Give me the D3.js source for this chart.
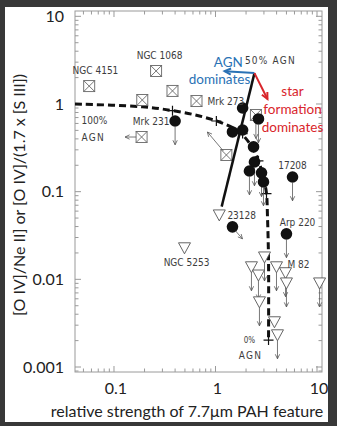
<!DOCTYPE html>
<html>
<head>
<meta charset="utf-8">
<script src="https://cdn.jsdelivr.net/npm/d3@7"></script>
<style>
  html, body { margin: 0; padding: 0; background: #383838; }
  svg { display: block; }
  text { font-family: Lato, "Open Sans", sans-serif; }
  text.small { font-family: "Liberation Sans Narrow", "DejaVu Sans Condensed", Lato, sans-serif; }
</style>
</head>
<body>
<svg id="chart" width="337" height="426"></svg>
<script>
// tick labels
const xTickVals = [0.1, 1, 10];
const yTickVals = [0.001, 0.01, 0.1, 1, 10];

// boxed crosses (x, y, limit arrow)
const squares = [
  { name: "NGC 4151", x: 0.057, y: 1.6, arrow: null },
  { name: "NGC 1068", x: 0.26, y: 2.38, arrow: null },
  { name: "", x: 0.19, y: 1.11, arrow: null },
  { name: "", x: 0.187, y: 0.42, arrow: "left" },
  { name: "", x: 0.377, y: 1.41, arrow: null },
  { name: "Mrk 273", x: 0.65, y: 1.08, arrow: null },
  { name: "", x: 2.5, y: 0.75, arrow: "down" },
  { name: "", x: 1.28, y: 0.262, arrow: "upleft" }
];

// filled circles
const circles = [
  { name: "Mrk 231", x: 0.40, y: 0.64, arrow: "down" },
  { name: "", x: 1.85, y: 0.90, arrow: null },
  { name: "", x: 2.65, y: 0.675, arrow: "down" },
  { name: "", x: 1.47, y: 0.48, arrow: null },
  { name: "", x: 1.85, y: 0.505, arrow: null },
  { name: "", x: 2.37, y: 0.324, arrow: null },
  { name: "", x: 2.42, y: 0.218, arrow: "down" },
  { name: "", x: 2.16, y: 0.172, arrow: "down" },
  { name: "", x: 2.84, y: 0.164, arrow: "down" },
  { name: "", x: 2.97, y: 0.129, arrow: "down" },
  { name: "17208", x: 5.74, y: 0.147, arrow: "down" },
  { name: "23128", x: 1.47, y: 0.0397, arrow: "downright" },
  { name: "Arp 220", x: 5.0, y: 0.033, arrow: "down" }
];

// open triangles (upper limits)
const triangles = [
  { name: "23128", x: 1.09, y: 0.0543, arrow: null },
  { name: "NGC 5253", x: 0.495, y: 0.0229, arrow: null },
  { name: "", x: 2.26, y: 0.0139, arrow: "down" },
  { name: "", x: 2.65, y: 0.0112, arrow: "down" },
  { name: "", x: 3.04, y: 0.018, arrow: "down" },
  { name: "", x: 3.99, y: 0.0139, arrow: "down" },
  { name: "M 82", x: 4.9, y: 0.0119, arrow: "down" },
  { name: "", x: 2.71, y: 0.00554, arrow: "down" },
  { name: "", x: 3.81, y: 0.00328, arrow: null },
  { name: "", x: 4.08, y: 0.00233, arrow: "down" },
  { name: "", x: 5.0, y: 0.0091, arrow: "down" },
  { name: "", x: 10.6, y: 0.0091, arrow: "down" }
];

// AGN / starburst mixing curve and its step marks
const mixCurve = [
  [0.0413, 1.0], [0.19, 0.93], [0.377, 0.84], [0.695, 0.73], [1.15, 0.61],
  [1.72, 0.48], [2.26, 0.33], [2.65, 0.225], [2.97, 0.144], [3.18, 0.095],
  [3.25, 0.053], [3.33, 0.0164], [3.33, 0.00203]
];
const mixMarks = [[0.377, 0.84], [1.02, 0.64], [1.85, 0.46], [2.65, 0.225], [3.18, 0.095], [3.33, 0.00203]];

// solid trend line and direction arrows (start, end)
const trendLine = [[2.42, 2.25], [1.15, 0.0675]];
const agnArrow = [[2.42, 2.25], [1.23, 2.37]];
const sfArrow = [[2.42, 2.25], [3.25, 1.14]];

const svg = d3.select("#chart");

// white panel
svg.append("rect")
  .attr("x", 5).attr("y", 7)
  .attr("width", 323).attr("height", 415)
  .attr("fill", "#ffffff");

const x = d3.scaleLog().domain([0.0413, 11.2]).range([75, 322]);
const y = d3.scaleLog().domain([0.000877, 11.5]).range([372, 11]);

const frameColor = "#9a9a9a";
const inkColor = "#3c3c3c";
const blue = "#2a72b5";
const red = "#d9252b";

// frame
svg.append("rect")
  .attr("x", x.range()[0]).attr("y", y.range()[1])
  .attr("width", x.range()[1] - x.range()[0])
  .attr("height", y.range()[0] - y.range()[1])
  .attr("fill", "none")
  .attr("stroke", frameColor)
  .attr("stroke-width", 1);

// inward ticks on all four sides
const isMajor = (v) => Math.abs(Math.log10(v) - Math.round(Math.log10(v))) < 1e-6;
const xt = x.ticks().filter((d) => d >= x.domain()[0] && d <= x.domain()[1]);
const yt = y.ticks().filter((d) => d >= y.domain()[0] && d <= y.domain()[1]);

const ticks = svg.append("g").attr("stroke", frameColor).attr("stroke-width", 1);
[y.range()[0], y.range()[1]].forEach((edge, i) => {
  const dir = i === 0 ? -1 : 1;
  ticks.selectAll(null).data(xt).enter().append("line")
    .attr("x1", (d) => x(d)).attr("x2", (d) => x(d))
    .attr("y1", edge).attr("y2", (d) => edge + dir * (isMajor(d) ? 6 : 3.5));
});
[x.range()[0], x.range()[1]].forEach((edge, i) => {
  const dir = i === 0 ? 1 : -1;
  ticks.selectAll(null).data(yt).enter().append("line")
    .attr("y1", (d) => y(d)).attr("y2", (d) => y(d))
    .attr("x1", edge).attr("x2", (d) => edge + dir * (isMajor(d) ? 6 : 3.5));
});

// tick labels
svg.append("g").selectAll("text").data(yTickVals).enter().append("text")
  .attr("x", 64).attr("y", (d) => y(d))
  .attr("dy", "0.36em")
  .attr("text-anchor", "end")
  .attr("font-size", "16px")
  .attr("fill", "#222")
  .text((d) => d3.format("~g")(d));

svg.append("g").selectAll("text").data(xTickVals).enter().append("text")
  .attr("x", (d) => x(d) + 2).attr("y", 394)
  .attr("text-anchor", "middle")
  .attr("font-size", "16px")
  .attr("fill", "#222")
  .text((d) => d3.format("~g")(d));

// axis titles
svg.append("text")
  .attr("x", 187).attr("y", 417)
  .attr("text-anchor", "middle")
  .attr("font-size", "16px")
  .attr("fill", "#222")
  .text("relative strength of 7.7\u03bcm PAH feature");

svg.append("text")
  .attr("transform", "translate(25,195) rotate(-90)")
  .attr("text-anchor", "middle")
  .attr("font-size", "16px")
  .attr("fill", "#222")
  .text("[O IV]/Ne II] or [O IV]/(1.7 x [S III])");

// arrow helper: thin line with an open V head
function arrow(g, x1, y1, x2, y2, color, width, head) {
  const a = Math.atan2(y2 - y1, x2 - x1);
  g.append("line")
    .attr("x1", x1).attr("y1", y1).attr("x2", x2).attr("y2", y2)
    .attr("stroke", color).attr("stroke-width", width);
  const path = d3.path();
  path.moveTo(x2 - head * Math.cos(a - 0.45), y2 - head * Math.sin(a - 0.45));
  path.lineTo(x2, y2);
  path.lineTo(x2 - head * Math.cos(a + 0.45), y2 - head * Math.sin(a + 0.45));
  g.append("path").attr("d", path.toString())
    .attr("fill", "none").attr("stroke", color).attr("stroke-width", width);
}

// limit arrows: start offset and end offset from the marker centre
function limitArrow(g, d, r) {
  if (!d.arrow) return;
  const cx = x(d.x), cy = y(d.y);
  const o = {
    down: [0, r, 0, r + 18],
    left: [-r, 0, -r - 11, 0],
    upleft: [-3, -4, -19, -23],
    downright: [3, 4, 10, 12]
  }[d.arrow];
  arrow(g, cx + o[0], cy + o[1], cx + o[2], cy + o[3], "#555", 0.8, 5);
}

const marks = svg.append("g");

// mixing curve
marks.append("path")
  .attr("d", d3.line().x((d) => x(d[0])).y((d) => y(d[1])).curve(d3.curveCatmullRom)(mixCurve))
  .attr("fill", "none")
  .attr("stroke", "#111")
  .attr("stroke-width", 3)
  .attr("stroke-dasharray", "7,4");

marks.selectAll(null).data(mixMarks).enter().append("path")
  .attr("d", (d) => `M${x(d[0]) - 5},${y(d[1])}h10M${x(d[0])},${y(d[1]) - 5}v10`)
  .attr("stroke", "#111").attr("stroke-width", 1.2);

// triangles
const tri = marks.append("g");
triangles.forEach((d) => {
  const cx = x(d.x), cy = y(d.y);
  tri.append("path")
    .attr("d", `M${cx - 6},${cy - 5}L${cx + 6},${cy - 5}L${cx},${cy + 6}Z`)
    .attr("fill", "#fff").attr("stroke", "#555").attr("stroke-width", 0.9);
  limitArrow(tri, d, 6);
});

// boxed crosses
const sq = marks.append("g");
squares.forEach((d) => {
  const cx = x(d.x), cy = y(d.y), h = 5.5;
  sq.append("rect")
    .attr("x", cx - h).attr("y", cy - h).attr("width", 2 * h).attr("height", 2 * h)
    .attr("fill", "#fff").attr("stroke", "#666").attr("stroke-width", 0.9);
  sq.append("path")
    .attr("d", `M${cx - h},${cy - h}L${cx + h},${cy + h}M${cx + h},${cy - h}L${cx - h},${cy + h}`)
    .attr("stroke", "#666").attr("stroke-width", 0.9);
  limitArrow(sq, d, h);
});

// trend line
marks.append("line")
  .attr("x1", x(trendLine[0][0])).attr("y1", y(trendLine[0][1]))
  .attr("x2", x(trendLine[1][0])).attr("y2", y(trendLine[1][1]))
  .attr("stroke", "#111").attr("stroke-width", 2.5);

// filled circles
const circ = marks.append("g");
circles.forEach((d) => {
  circ.append("circle")
    .attr("cx", x(d.x)).attr("cy", y(d.y)).attr("r", 5.8)
    .attr("fill", "#111");
  limitArrow(circ, d, 5.8);
});

// direction arrows
arrow(marks, x(agnArrow[0][0]), y(agnArrow[0][1]), x(agnArrow[1][0]), y(agnArrow[1][1]), blue, 2, 7);
arrow(marks, x(sfArrow[0][0]), y(sfArrow[0][1]), x(sfArrow[1][0]), y(sfArrow[1][1]), red, 2, 7);

// annotations (anchored in data space)
const notes = [
  { t: "NGC 4151", x: 0.0657, y: 2.38, a: "middle", s: 10, c: inkColor, k: "small" },
  { t: "NGC 1068", x: 0.281, y: 3.62, a: "middle", s: 10, c: inkColor, k: "small" },
  { t: "100%", x: 0.0479, y: 0.64, a: "start", s: 10, c: inkColor, k: "small" },
  { t: "AGN", x: 0.0479, y: 0.42, a: "start", s: 10, c: inkColor, k: "small spaced" },
  { t: "Mrk 231", x: 0.352, y: 0.624, a: "end", s: 10, c: inkColor, k: "small" },
  { t: "Mrk 273", x: 0.834, y: 1.08, a: "start", s: 10, c: inkColor, k: "small" },
  { t: "50%  AGN", x: 1.95, y: 3.1, a: "start", s: 10, c: inkColor, k: "small spaced" },
  { t: "AGN", x: 1.34, y: 3.01, a: "middle", s: 13.5, c: blue, k: "" },
  { t: "dominates", x: 1.095, y: 1.93, a: "middle", s: 13.5, c: blue, k: "" },
  { t: "star", x: 5.74, y: 1.41, a: "middle", s: 13.5, c: red, k: "" },
  { t: "formation", x: 5.74, y: 0.877, a: "middle", s: 13.5, c: red, k: "" },
  { t: "dominates", x: 5.74, y: 0.547, a: "middle", s: 13.5, c: red, k: "" },
  { t: "17208", x: 5.74, y: 0.2, a: "middle", s: 10, c: inkColor, k: "small" },
  { t: "23128", x: 1.31, y: 0.053, a: "start", s: 10, c: inkColor, k: "small" },
  { t: "Arp 220", x: 6.43, y: 0.044, a: "middle", s: 10, c: inkColor, k: "small" },
  { t: "NGC 5253", x: 0.518, y: 0.0154, a: "middle", s: 10, c: inkColor, k: "small" },
  { t: "M 82", x: 5.12, y: 0.0146, a: "start", s: 10, c: inkColor, k: "small" },
  { t: "0%", x: 2.16, y: 0.00204, a: "middle", s: 8, c: inkColor, k: "small" },
  { t: "AGN", x: 2.21, y: 0.00134, a: "middle", s: 10, c: inkColor, k: "small spaced" }
];
svg.append("g").selectAll("text").data(notes).enter().append("text")
  .attr("class", (d) => d.k)
  .attr("x", (d) => x(d.x)).attr("y", (d) => y(d.y))
  .attr("dy", "0.35em")
  .attr("text-anchor", (d) => d.a)
  .attr("font-size", (d) => d.s + "px")
  .attr("letter-spacing", (d) => (d.k.includes("spaced") ? "1.2px" : null))
  .attr("fill", (d) => d.c)
  .text((d) => d.t);
</script>
</body>
</html>
